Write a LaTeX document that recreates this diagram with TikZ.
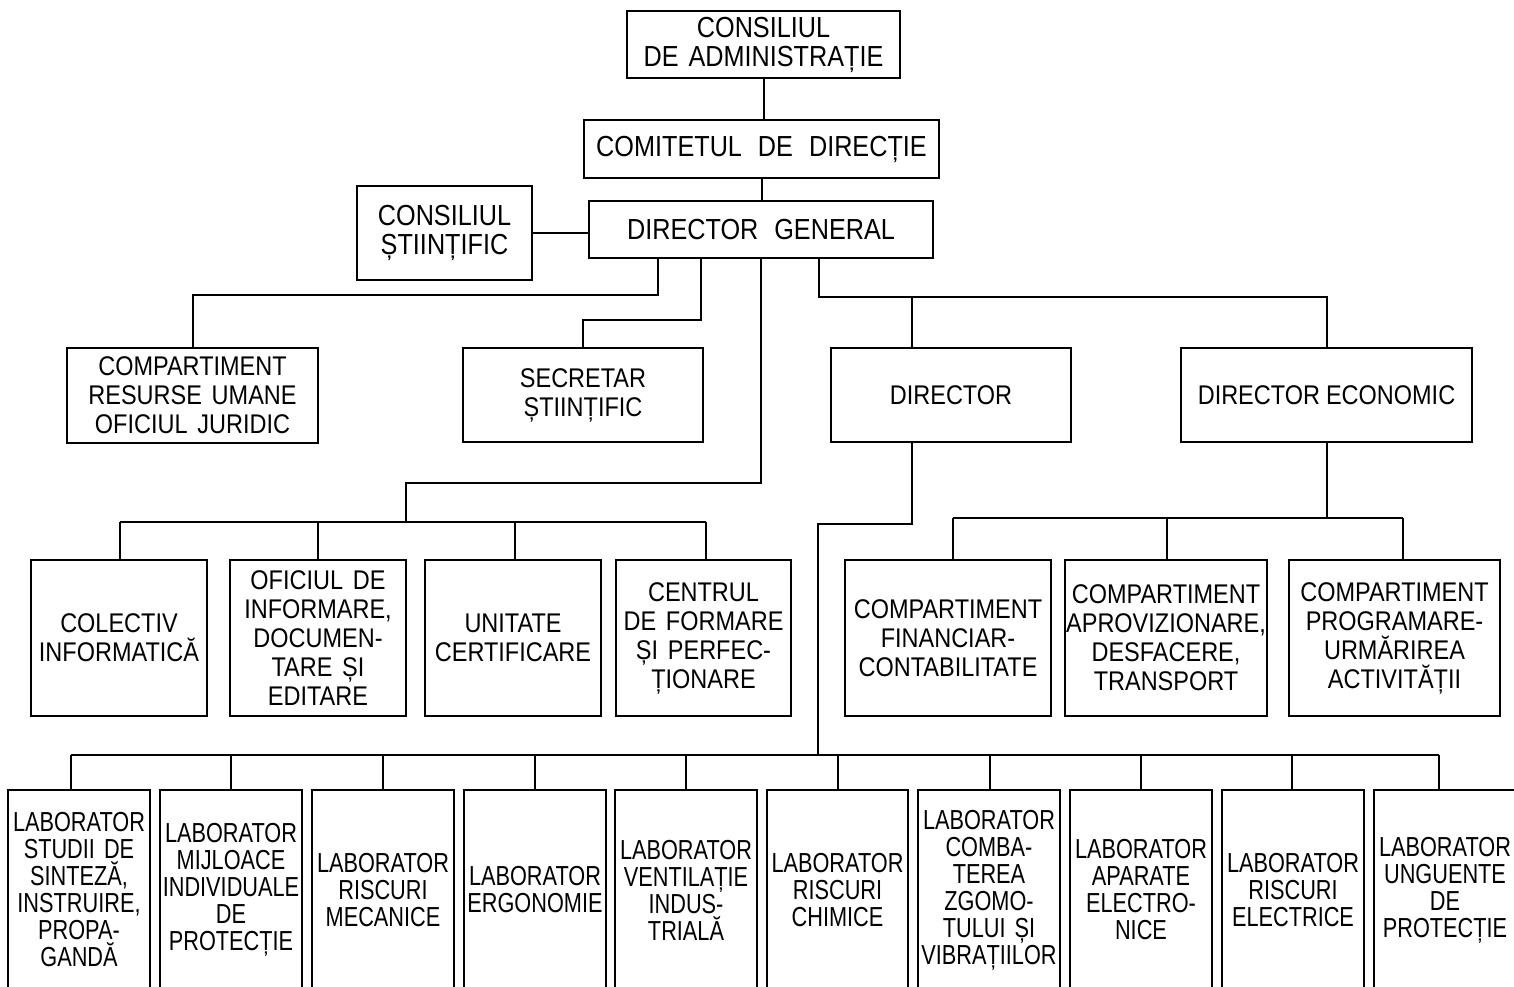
\documentclass[tikz,border=0pt]{standalone}
\usepackage{fontspec}
\setmainfont[FakeStretch=0.87,WordSpace=1.5]{Liberation Sans}
\newfontfamily\labfont[FakeStretch=0.79,WordSpace=1.5]{Liberation Sans}
\begin{document}
\begin{tikzpicture}[x=1pt,y=-1pt,line width=2pt,
  box/.style={draw,inner sep=0pt,align=center,font=\fontsize{27}{29}\selectfont},
  bigbox/.style={box,font=\fontsize{29}{29}\selectfont},
  labbox/.style={box,font=\labfont\fontsize{27.5}{27}\selectfont}]
\useasboundingbox (0,0) rectangle (1514,987);
\newcommand\bx[7][box]{\node[#1,minimum width={(#5-#3)*1pt},minimum height={(#6-#4)*1pt}] (#2) at ({(#3+#5)/2},{(#4+#6)/2}) {#7};}
% top
\bx[bigbox]{cda}{627}{11}{900}{78}{CONSILIUL\\DE\hspace{10pt}ADMINISTRAȚIE}
\bx[bigbox]{cdd}{584}{120}{939}{178}{COMITETUL\hspace{16pt}DE\hspace{16pt}DIRECȚIE}
\bx[bigbox]{dg}{589}{201}{933}{258}{DIRECTOR\hspace{16pt}GENERAL}
\bx[bigbox]{cst}{357}{186}{532}{280}{CONSILIUL\\ȘTIINȚIFIC}
% second level
\bx{crum}{67}{348}{318}{443}{COMPARTIMENT\\RESURSE UMANE\\OFICIUL JURIDIC}
\bx{sec}{463}{348}{703}{442}{SECRETAR\\ȘTIINȚIFIC}
\bx{dir}{831}{348}{1071}{442}{DIRECTOR}
\bx{eco}{1181}{348}{1472}{442}{DIRECTOR\hspace{6pt}ECONOMIC}
% third level
\bx{col}{31}{560}{207}{716}{COLECTIV\\INFORMATICĂ}
\bx{ofi}{230}{560}{406}{716}{OFICIUL DE\\INFORMARE,\\DOCUMEN-\\TARE ȘI\\EDITARE}
\bx{uni}{425}{560}{601}{716}{UNITATE\\CERTIFICARE}
\bx{cen}{616}{560}{791}{716}{CENTRUL\\DE FORMARE\\ȘI PERFEC-\\ȚIONARE}
\bx{fin}{845}{560}{1051}{716}{COMPARTIMENT\\FINANCIAR-\\CONTABILITATE}
\bx{apr}{1065}{560}{1267}{716}{COMPARTIMENT\\APROVIZIONARE,\\DESFACERE,\\TRANSPORT}
\bx{pro}{1289}{560}{1500}{716}{COMPARTIMENT\\PROGRAMARE-\\URMĂRIREA\\ACTIVITĂȚII}
% labs
\bx[labbox]{l1}{8}{790}{150}{990}{LABORATOR\\STUDII DE\\SINTEZĂ,\\INSTRUIRE,\\PROPA-\\GANDĂ}
\bx[labbox]{l2}{160}{790}{302}{990}{LABORATOR\\MIJLOACE\\INDIVIDUALE\\DE\\PROTECȚIE}
\bx[labbox]{l3}{312}{790}{454}{990}{LABORATOR\\RISCURI\\MECANICE}
\bx[labbox]{l4}{464}{790}{606}{990}{LABORATOR\\ERGONOMIE}
\bx[labbox]{l5}{615}{790}{757}{990}{LABORATOR\\VENTILAȚIE\\INDUS-\\TRIALĂ}
\bx[labbox]{l6}{767}{790}{908}{990}{LABORATOR\\RISCURI\\CHIMICE}
\bx[labbox]{l7}{918}{790}{1060}{990}{LABORATOR\\COMBA-\\TEREA\\ZGOMO-\\TULUI ȘI\\VIBRAȚIILOR}
\bx[labbox]{l8}{1070}{790}{1212}{990}{LABORATOR\\APARATE\\ELECTRO-\\NICE}
\bx[labbox]{l9}{1222}{790}{1364}{990}{LABORATOR\\RISCURI\\ELECTRICE}
\bx[labbox]{l10}{1374}{790}{1516}{990}{LABORATOR\\UNGUENTE\\DE\\PROTECȚIE}
% connectors top
\draw (cda.south) -- (cda.south |- cdd.north);
\draw (cdd.south) -- (cdd.south |- dg.north);
\draw (cst.east) -- (cst.east -| dg.west);
\draw (658,0 |- dg.south) -- (658,295) -| (crum.north);
\draw (701,0 |- dg.south) -- (701,320) -| (sec.north);
\coordinate (b4) at (406,522);
\draw (dg.south) -- (dg.south |- 0,483) -| (b4);
\draw (819,0 |- dg.south) -- (819,297) -| (912,0 |- dir.north);
\draw (819,297) -| (eco.north);
% bus 4
\draw (b4 -| 120,0) -- (b4 -| 706,0);
\foreach \n/\x in {col/120,ofi/318,uni/515,cen/706}
  \draw (\x,0 |- b4) -- (\x,0 |- \n.north);
% economic
\coordinate (be) at (1324,518);
\draw (eco.south) -- (eco.south |- be);
\draw (953,0 |- be) -- (1403,0 |- be);
\foreach \n/\x in {fin/953,apr/1167,pro/1403}
  \draw (\x,0 |- be) -- (\x,0 |- \n.north);
% labs
\coordinate (bl) at (818,755);
\draw (912,0 |- dir.south) -- (912,524) -- (818,524) -- (bl);
\draw (71,0 |- bl) -- (1439,0 |- bl);
\foreach \n/\x in {l1/71,l2/231,l3/383,l4/535,l5/686,l6/838,l7/990,l8/1141,l9/1292,l10/1439}
  \draw (\x,0 |- bl) -- (\x,0 |- \n.north);
\end{tikzpicture}
\end{document}
